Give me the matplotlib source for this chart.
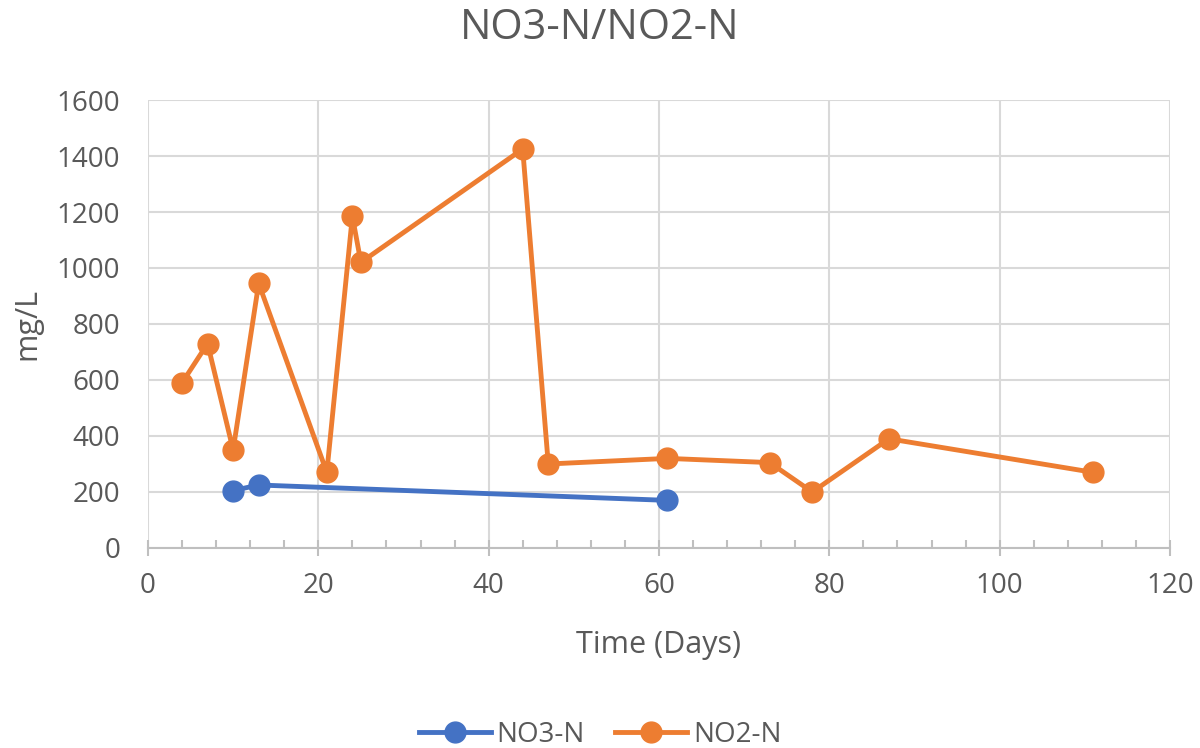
import matplotlib
matplotlib.use("Agg")
import matplotlib.pyplot as plt
from matplotlib.ticker import MultipleLocator

plt.rcParams['font.family'] = ['Open Sans', 'DejaVu Sans']

# --- data ---
no3_days = [10, 13, 61]
no3_vals = [205, 225, 170]

no2_days = [4, 7, 10, 13, 21, 24, 25, 44, 47, 61, 73, 78, 87, 111]
no2_vals = [590, 730, 350, 945, 270, 1185, 1020, 1425, 300, 320, 305, 200, 390, 270]

blue = '#4472C4'
orange = '#ED7D31'
grid_c = '#D9D9D9'
text_c = '#595959'

fig = plt.figure(figsize=(12, 7.48), dpi=100)
ax = fig.add_axes([0.1233, 0.2674, 0.8517, 0.5989])

ax.plot(no3_days, no3_vals, '-o', color=blue, lw=3.5, ms=15, label='NO3-N', zorder=3)
ax.plot(no2_days, no2_vals, '-o', color=orange, lw=3.5, ms=15, label='NO2-N', zorder=3)

ax.set_xlim(0, 120)
ax.set_ylim(0, 1600)
ax.xaxis.set_major_locator(MultipleLocator(20))
ax.xaxis.set_minor_locator(MultipleLocator(4))
ax.yaxis.set_major_locator(MultipleLocator(200))

ax.grid(True, which='major', color=grid_c, lw=1.5, zorder=0)
for s in ['top', 'right', 'left']:
    ax.spines[s].set_visible(False)
ax.spines['bottom'].set_color('#BFBFBF')
ax.spines['bottom'].set_linewidth(1.5)

ax.tick_params(axis='x', which='major', direction='inout', length=12, width=1.5,
               color='#BFBFBF', labelsize=20, labelcolor=text_c, pad=11)
ax.tick_params(axis='x', which='minor', direction='in', length=6, width=1.5, color='#BFBFBF')
ax.tick_params(axis='y', length=0, labelsize=20, labelcolor=text_c, pad=20)

ax.set_xlabel('Time (Days)', fontsize=22, color=text_c, labelpad=22)
ax.set_ylabel('mg/L', fontsize=22, color=text_c, labelpad=10)
fig.text(0.5, 1 - 28 / 748, 'NO3-N/NO2-N', fontsize=30, color=text_c,
         ha='center', va='center')

fig.legend(loc='center', bbox_to_anchor=(0.5, 1 - 735 / 748), ncol=2, frameon=False,
           fontsize=20, labelcolor=text_c, handlelength=2.6, columnspacing=1.1,
           handletextpad=0.2, borderaxespad=0)

fig.savefig('out.png', dpi=100)
